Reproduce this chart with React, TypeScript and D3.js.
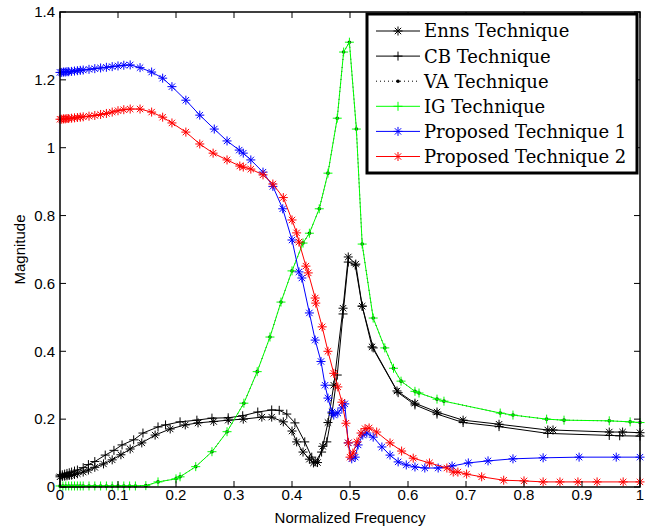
import React, { useEffect, useRef } from 'react'
import * as d3 from 'd3'

// IG technique (VA technique lies on the same points)
const igX = [0, 0.005, 0.01, 0.015, 0.02, 0.025, 0.03, 0.035, 0.04, 0.05, 0.06, 0.07, 0.08, 0.09, 0.1, 0.11, 0.12, 0.13, 0.148, 0.169, 0.2, 0.207, 0.234, 0.262, 0.288, 0.317, 0.34, 0.362, 0.381, 0.4, 0.419, 0.43, 0.447, 0.462, 0.478, 0.489, 0.499, 0.511, 0.521, 0.54, 0.56, 0.575, 0.588, 0.612, 0.619, 0.65, 0.662, 0.759, 0.781, 0.839, 0.869, 0.947, 0.983, 1.0]
const igY = [0.003, 0.003, 0.003, 0.003, 0.003, 0.003, 0.003, 0.003, 0.003, 0.003, 0.003, 0.003, 0.003, 0.003, 0.003, 0.003, 0.003, 0.003, 0.004, 0.015, 0.024, 0.03, 0.06, 0.104, 0.163, 0.247, 0.34, 0.442, 0.545, 0.637, 0.719, 0.748, 0.82, 0.925, 1.087, 1.282, 1.311, 1.055, 0.716, 0.498, 0.41, 0.35, 0.312, 0.282, 0.277, 0.259, 0.253, 0.218, 0.212, 0.2, 0.197, 0.195, 0.192, 0.19]

const ennsX = [0, 0.004, 0.008, 0.012, 0.016, 0.02, 0.025, 0.03, 0.04, 0.049, 0.06, 0.075, 0.09, 0.105, 0.121, 0.141, 0.164, 0.19, 0.216, 0.238, 0.265, 0.29, 0.316, 0.348, 0.365, 0.385, 0.4, 0.408, 0.419, 0.43, 0.437, 0.444, 0.453, 0.462, 0.472, 0.488, 0.497, 0.51, 0.521, 0.538, 0.581, 0.612, 0.65, 0.695, 0.757, 0.841, 0.85, 0.947, 0.97, 1.0]
const ennsY = [0.03, 0.031, 0.032, 0.033, 0.034, 0.035, 0.037, 0.039, 0.044, 0.05, 0.058, 0.068, 0.08, 0.095, 0.112, 0.13, 0.153, 0.171, 0.183, 0.189, 0.193, 0.197, 0.2, 0.206, 0.206, 0.192, 0.165, 0.133, 0.103, 0.082, 0.071, 0.072, 0.12, 0.19, 0.3, 0.527, 0.678, 0.657, 0.533, 0.413, 0.283, 0.247, 0.221, 0.197, 0.185, 0.168, 0.168, 0.162, 0.162, 0.16]

const cbX = [0, 0.004, 0.008, 0.012, 0.016, 0.02, 0.025, 0.03, 0.04, 0.049, 0.06, 0.078, 0.093, 0.107, 0.127, 0.143, 0.169, 0.182, 0.207, 0.236, 0.262, 0.29, 0.315, 0.341, 0.365, 0.378, 0.391, 0.405, 0.422, 0.434, 0.44, 0.451, 0.46, 0.469, 0.478, 0.488, 0.497, 0.509, 0.521, 0.54, 0.583, 0.612, 0.65, 0.695, 0.757, 0.841, 0.947, 0.965, 1.0]
const cbY = [0.035, 0.036, 0.038, 0.04, 0.042, 0.044, 0.047, 0.05, 0.057, 0.066, 0.075, 0.094, 0.108, 0.124, 0.139, 0.159, 0.177, 0.183, 0.192, 0.197, 0.203, 0.204, 0.21, 0.221, 0.227, 0.226, 0.215, 0.189, 0.133, 0.088, 0.074, 0.103, 0.133, 0.218, 0.33, 0.51, 0.663, 0.654, 0.533, 0.41, 0.278, 0.242, 0.215, 0.19, 0.178, 0.158, 0.152, 0.151, 0.15]

const p1X = [0, 0.003, 0.006, 0.009, 0.012, 0.015, 0.02, 0.025, 0.03, 0.035, 0.04, 0.05, 0.06, 0.07, 0.08, 0.09, 0.1, 0.11, 0.121, 0.138, 0.158, 0.177, 0.193, 0.217, 0.241, 0.266, 0.288, 0.309, 0.316, 0.329, 0.35, 0.367, 0.384, 0.4, 0.412, 0.417, 0.43, 0.44, 0.45, 0.457, 0.462, 0.469, 0.472, 0.479, 0.486, 0.491, 0.497, 0.503, 0.509, 0.514, 0.522, 0.529, 0.54, 0.555, 0.569, 0.583, 0.597, 0.612, 0.629, 0.652, 0.676, 0.704, 0.738, 0.781, 0.833, 0.895, 0.959, 1.0]
const p1Y = [1.222, 1.222, 1.223, 1.223, 1.224, 1.224, 1.225, 1.226, 1.227, 1.228, 1.229, 1.231, 1.233, 1.235, 1.237, 1.239, 1.241, 1.243, 1.244, 1.236, 1.223, 1.205, 1.18, 1.14, 1.096, 1.055, 1.02, 0.993, 0.984, 0.964, 0.928, 0.886, 0.82, 0.728, 0.634, 0.616, 0.513, 0.433, 0.37, 0.3, 0.262, 0.221, 0.212, 0.218, 0.233, 0.245, 0.13, 0.083, 0.088, 0.124, 0.153, 0.159, 0.147, 0.118, 0.094, 0.074, 0.065, 0.059, 0.056, 0.056, 0.062, 0.071, 0.077, 0.083, 0.086, 0.088, 0.088, 0.088]

const p2X = [0, 0.003, 0.006, 0.009, 0.012, 0.015, 0.02, 0.025, 0.03, 0.035, 0.04, 0.05, 0.06, 0.07, 0.08, 0.09, 0.1, 0.11, 0.121, 0.138, 0.158, 0.177, 0.193, 0.217, 0.241, 0.264, 0.288, 0.31, 0.316, 0.329, 0.35, 0.367, 0.385, 0.4, 0.408, 0.412, 0.424, 0.428, 0.44, 0.441, 0.452, 0.462, 0.472, 0.479, 0.486, 0.493, 0.497, 0.5, 0.505, 0.512, 0.519, 0.526, 0.533, 0.546, 0.569, 0.589, 0.609, 0.637, 0.667, 0.678, 0.686, 0.701, 0.727, 0.765, 0.8, 0.833, 0.862, 0.893, 0.926, 0.971, 1.0]
const p2Y = [1.084, 1.084, 1.085, 1.085, 1.086, 1.086, 1.087, 1.088, 1.089, 1.09, 1.091, 1.093, 1.095, 1.098, 1.101, 1.105, 1.109, 1.112, 1.114, 1.114, 1.105, 1.09, 1.073, 1.046, 1.011, 0.984, 0.964, 0.946, 0.943, 0.937, 0.92, 0.893, 0.853, 0.787, 0.749, 0.722, 0.651, 0.631, 0.557, 0.542, 0.472, 0.4, 0.335, 0.295, 0.25, 0.188, 0.13, 0.088, 0.1, 0.133, 0.159, 0.172, 0.174, 0.162, 0.13, 0.106, 0.085, 0.071, 0.056, 0.044, 0.044, 0.038, 0.03, 0.02, 0.018, 0.015, 0.015, 0.015, 0.015, 0.015, 0.015]

const xTicks = [0, 0.1, 0.2, 0.3, 0.4, 0.5, 0.6, 0.7, 0.8, 0.9, 1]
const yTicks = [0, 0.2, 0.4, 0.6, 0.8, 1, 1.2, 1.4]

const series = [
  { name: 'Enns Technique', xs: ennsX, ys: ennsY, color: '#000', marker: 'star', dash: null },
  { name: 'CB Technique', xs: cbX, ys: cbY, color: '#000', marker: 'plus', dash: null },
  { name: 'VA Technique', xs: igX, ys: igY, color: '#000', marker: 'dot', dash: '1,3' },
  { name: 'IG Technique', xs: igX, ys: igY, color: '#00ff00', marker: 'plus', dash: null },
  { name: 'Proposed Technique 1', xs: p1X, ys: p1Y, color: '#0000ff', marker: 'star', dash: null },
  { name: 'Proposed Technique 2', xs: p2X, ys: p2Y, color: '#ff0000', marker: 'star', dash: null },
]

const markerPath = (type, r = 4.5) => {
  const d = r * 0.707
  if (type === 'plus') return `M${-r},0L${r},0M0,${-r}L0,${r}`
  return `M${-r},0L${r},0M0,${-r}L0,${r}M${-d},${-d}L${d},${d}M${-d},${d}L${d},${-d}`
}

const W = 652
const H = 528

const App = () => {
  const ref = useRef(null)

  useEffect(() => {
    const root = d3.select(ref.current)
    root.selectAll('*').remove()

    const margin = { top: 12, right: 12, bottom: 41, left: 60 }
    const width = W - margin.left - margin.right
    const height = H - margin.top - margin.bottom

    const x = d3.scaleLinear().domain([0, 1]).range([0, width])
    const y = d3.scaleLinear().domain([0, 1.4]).range([height, 0])

    const svg = root.append('g').attr('transform', `translate(${margin.left},${margin.top})`)
    const sans = '"Liberation Sans", Arial, sans-serif'

    // curves
    series.forEach(s => {
      const pts = s.xs.map((v, i) => [v, s.ys[i]])
      const line = d3.line().x(d => x(d[0])).y(d => y(d[1]))
      svg
        .append('path')
        .attr('d', line(pts))
        .attr('fill', 'none')
        .attr('stroke', s.color)
        .attr('stroke-width', 1)
        .attr('stroke-dasharray', s.dash)
      const g = svg.append('g')
      if (s.marker === 'dot') {
        g.selectAll('circle')
          .data(pts)
          .join('circle')
          .attr('cx', d => x(d[0]))
          .attr('cy', d => y(d[1]))
          .attr('r', 1.8)
          .attr('fill', s.color)
      } else {
        g.selectAll('path')
          .data(pts)
          .join('path')
          .attr('transform', d => `translate(${x(d[0])},${y(d[1])})`)
          .attr('d', markerPath(s.marker))
          .attr('fill', 'none')
          .attr('stroke', s.color)
          .attr('stroke-width', 1)
      }
    })

    // axes box and inward ticks
    const tickLen = 6
    const axes = svg.append('g').attr('stroke', '#000').attr('stroke-width', 1)
    xTicks.forEach(t => {
      axes.append('line').attr('x1', x(t)).attr('x2', x(t)).attr('y1', height).attr('y2', height - tickLen)
      axes.append('line').attr('x1', x(t)).attr('x2', x(t)).attr('y1', 0).attr('y2', tickLen)
    })
    yTicks.forEach(t => {
      axes.append('line').attr('x1', 0).attr('x2', tickLen).attr('y1', y(t)).attr('y2', y(t))
      axes.append('line').attr('x1', width).attr('x2', width - tickLen).attr('y1', y(t)).attr('y2', y(t))
    })
    svg
      .append('rect')
      .attr('width', width)
      .attr('height', height)
      .attr('fill', 'none')
      .attr('stroke', '#000')
      .attr('stroke-width', 1.5)

    svg
      .append('g')
      .attr('font-family', sans)
      .attr('font-size', 15)
      .attr('text-anchor', 'middle')
      .selectAll('text')
      .data(xTicks)
      .join('text')
      .attr('x', d => x(d))
      .attr('y', height + 13)
      .text(d => String(d))

    svg
      .append('g')
      .attr('font-family', sans)
      .attr('font-size', 15)
      .attr('text-anchor', 'end')
      .selectAll('text')
      .data(yTicks)
      .join('text')
      .attr('x', -5)
      .attr('y', d => y(d))
      .attr('dy', '0.35em')
      .text(d => String(d))

    svg
      .append('text')
      .attr('x', width / 2)
      .attr('y', height + 36)
      .attr('text-anchor', 'middle')
      .attr('font-family', sans)
      .attr('font-size', 15)
      .text('Normalized Frequency')

    svg
      .append('text')
      .attr('transform', `translate(${25 - margin.left},${height / 2}) rotate(-90)`)
      .attr('text-anchor', 'middle')
      .attr('font-family', sans)
      .attr('font-size', 15)
      .text('Magnitude')

    // legend
    const leg = root.append('g')
    leg
      .append('rect')
      .attr('x', 367)
      .attr('y', 14)
      .attr('width', 270)
      .attr('height', 159)
      .attr('fill', '#fff')
      .attr('stroke', '#000')
      .attr('stroke-width', 3)
    series.forEach((s, i) => {
      const ry = 31 + i * 25.1
      leg
        .append('line')
        .attr('x1', 376)
        .attr('x2', 420)
        .attr('y1', ry)
        .attr('y2', ry)
        .attr('stroke', s.color)
        .attr('stroke-width', 1)
        .attr('stroke-dasharray', s.dash)
      if (s.marker === 'dot') {
        leg.append('circle').attr('cx', 398).attr('cy', ry).attr('r', 1.8).attr('fill', s.color)
      } else {
        leg
          .append('path')
          .attr('transform', `translate(398,${ry})`)
          .attr('d', markerPath(s.marker))
          .attr('fill', 'none')
          .attr('stroke', s.color)
      }
      leg
        .append('text')
        .attr('x', 424)
        .attr('y', ry)
        .attr('dy', '0.36em')
        .attr('font-family', '"DejaVu Serif", serif')
        .attr('font-size', 18)
        .text(s.name)
    })
  }, [])

  return (
    <svg
      ref={ref}
      width={W}
      height={H}
      style={{ position: 'absolute', left: 0, top: 0, background: '#fff' }}
    />
  )
}

export default App
